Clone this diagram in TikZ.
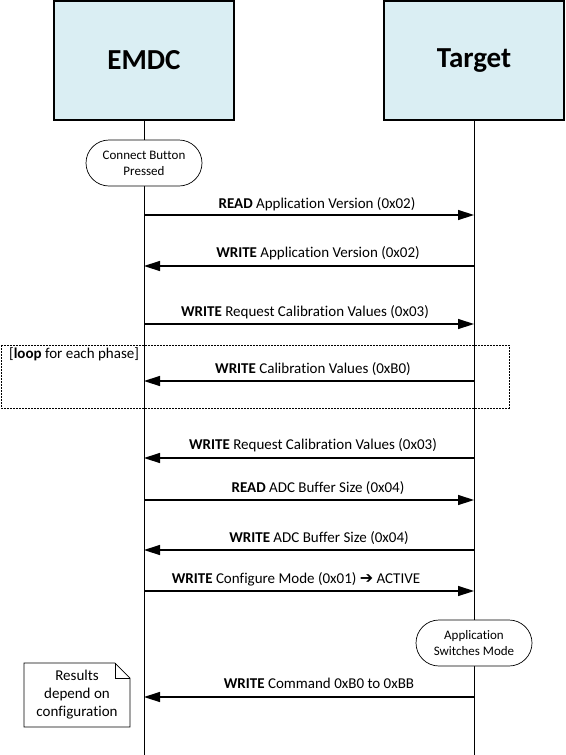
\documentclass[tikz,border=0pt]{standalone}
\usepackage{fontspec}
\setmainfont{Carlito}[Ligatures=NoCommon]
\newfontfamily\dejavu{DejaVu Sans}
\usetikzlibrary{arrows.meta,shapes.misc}
\definecolor{boxblue}{RGB}{218,238,243}
\begin{document}
\begin{tikzpicture}[x=1pt,y=-1pt,
  actor/.style={draw,line width=1.2pt,fill=boxblue,minimum width=180pt,minimum height=119pt,font=\fontsize{29}{31}\selectfont\bfseries,inner sep=0},
  statebox/.style={draw,rounded rectangle,fill=white,minimum width=118pt,minimum height=46pt,align=center,font=\fontsize{13}{16}\selectfont,line width=0.7pt,inner sep=1pt},
  msg/.style={line width=1.4pt,-{Triangle[length=16pt,width=10pt]}},
  lbl/.style={font=\fontsize{15}{17}\selectfont,inner sep=0,anchor=base},
  life/.style={line width=0.8pt},
  loopbox/.style={line width=0.8pt,dash pattern=on 2pt off 1pt},
  notetext/.style={font=\fontsize{15}{18}\selectfont,align=center,inner sep=0}]
\useasboundingbox (0,0) rectangle (565,755);

% actors
\node[actor] (emdc) at (144,60.5) {EMDC};
\node[actor] (target) at (474,60.5) {Target};
\coordinate (emdcEnd) at (144,755);
\coordinate (targetEnd) at (474,755);
\draw[life] (emdc.south) -- (emdcEnd);
\draw[life] (target.south) -- (targetEnd);

% loop frame
\draw[loopbox] (1,345) rectangle (509,408);
\node[lbl,anchor=base west] (looplbl) at (9,358) {[\textbf{loop} for each phase]};

% states
\node[statebox] (connect) at (144,163) {Connect Button\\Pressed};
\node[statebox] (switch) at (474,643) {Application\\Switches Mode};

% note
\draw[line width=0.7pt,fill=white] (24,663) -- (115,663) -- (130,678) -- (130,727) -- (24,727) -- cycle;
\draw[line width=0.7pt] (115,663) -- (115,678) -- (130,678);
\node[notetext] (note) at (77,695) {Results\\depend on\\configuration};

% message coordinates
\foreach \n/\y in {1/215,2/266,3/324,4/381,5/458,6/500,7/550,8/591,9/697}{
  \coordinate (e\n) at (144,\y);
  \coordinate (t\n) at (474,\y);
}

\draw[msg] (e1) -- (t1);
\node[lbl] (l1) at (317,208) {\textbf{READ} Application Version (0x02)};
\draw[msg] (t2) -- (e2);
\node[lbl] (l2) at (318,257) {\textbf{WRITE} Application Version (0x02)};
\draw[msg] (e3) -- (t3);
\node[lbl] (l3) at (305,316) {\textbf{WRITE} Request Calibration Values (0x03)};
\draw[msg] (t4) -- (e4);
\node[lbl] (l4) at (313,373) {\textbf{WRITE} Calibration Values (0xB0)};
\draw[msg] (t5) -- (e5);
\node[lbl] (l5) at (313,449) {\textbf{WRITE} Request Calibration Values (0x03)};
\draw[msg] (e6) -- (t6);
\node[lbl] (l6) at (318,492) {\textbf{READ} ADC Buffer Size (0x04)};
\draw[msg] (t7) -- (e7);
\node[lbl] (l7) at (319,542) {\textbf{WRITE} ADC Buffer Size (0x04)};
\draw[msg] (e8) -- (t8);
\node[lbl] (l8) at (296,583) {\textbf{WRITE} Configure Mode (0x01) {\dejavu\bfseries\fontsize{16}{17}\selectfont ➔} ACTIVE};
\draw[msg] (t9) -- (e9);
\node[lbl] (l9) at (319,688) {\textbf{WRITE} Command 0xB0 to 0xBB};
\end{tikzpicture}
\end{document}
